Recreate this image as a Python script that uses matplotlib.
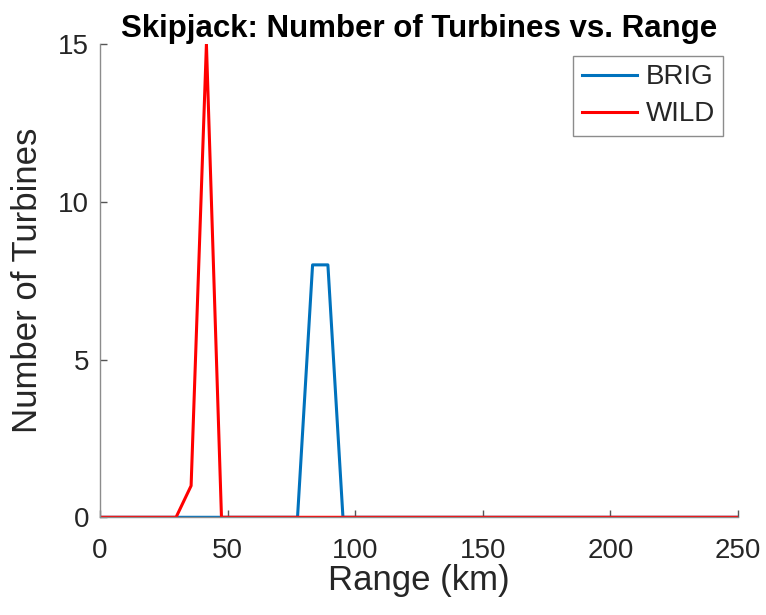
import matplotlib
matplotlib.use("Agg")
import matplotlib.pyplot as plt

# Data (range in km, number of turbines)
brig_range = [0, 77.4, 83.3, 89.3, 95.2, 250]
brig_count = [0, 0, 8, 8, 0, 0]
wild_range = [0, 29.8, 35.7, 41.7, 47.6, 250]
wild_count = [0, 0, 1, 15, 0, 0]

x_ticks = [0, 50, 100, 150, 200, 250]
y_ticks = [0, 5, 10, 15]

plt.rcParams['font.family'] = ['Liberation Sans', 'DejaVu Sans']

fig = plt.figure(figsize=(7.66, 6.15), dpi=100)
ax = fig.add_axes([100/766, 1-517.3/615, 638/766, (517.3-44)/615])

ax.plot(brig_range, brig_count, color='#0072BD', lw=2.2, label='BRIG')
ax.plot(wild_range, wild_count, color='#FF0000', lw=2.2, label='WILD')

ax.set_xlim(0, 250)
ax.set_ylim(0, 15)
ax.set_xticks(x_ticks)
ax.set_yticks(y_ticks)

for s in ['top', 'right']:
    ax.spines[s].set_visible(False)
for s in ['left', 'bottom']:
    ax.spines[s].set_color('#8c8c8c')
    ax.spines[s].set_linewidth(1.0)

ax.tick_params(direction='in', length=5, width=1, color='#555555',
               labelsize=20, labelcolor='#262626')
ax.tick_params(axis='y', pad=8)
ax.tick_params(axis='x', pad=15)

ax.set_xlabel('Range (km)', fontsize=25, color='#262626', labelpad=0)
ax.set_ylabel('Number of Turbines', fontsize=25, color='#262626', labelpad=10)
ax.set_title('Skipjack: Number of Turbines vs. Range', fontsize=22.5,
             fontweight='bold', color='black', pad=5)

leg = ax.legend(loc='upper right', fontsize=20, frameon=True, fancybox=False,
                handlelength=2.0, borderpad=0.3, labelspacing=0.4, handletextpad=0.3,
                borderaxespad=0)
leg.set_bbox_to_anchor((723/766, 1-56/615), transform=fig.transFigure)
leg.get_frame().set_edgecolor('#707070')
leg.get_frame().set_linewidth(1.0)
for t in leg.get_texts():
    t.set_color('#262626')

fig.savefig('out.png', dpi=100)
